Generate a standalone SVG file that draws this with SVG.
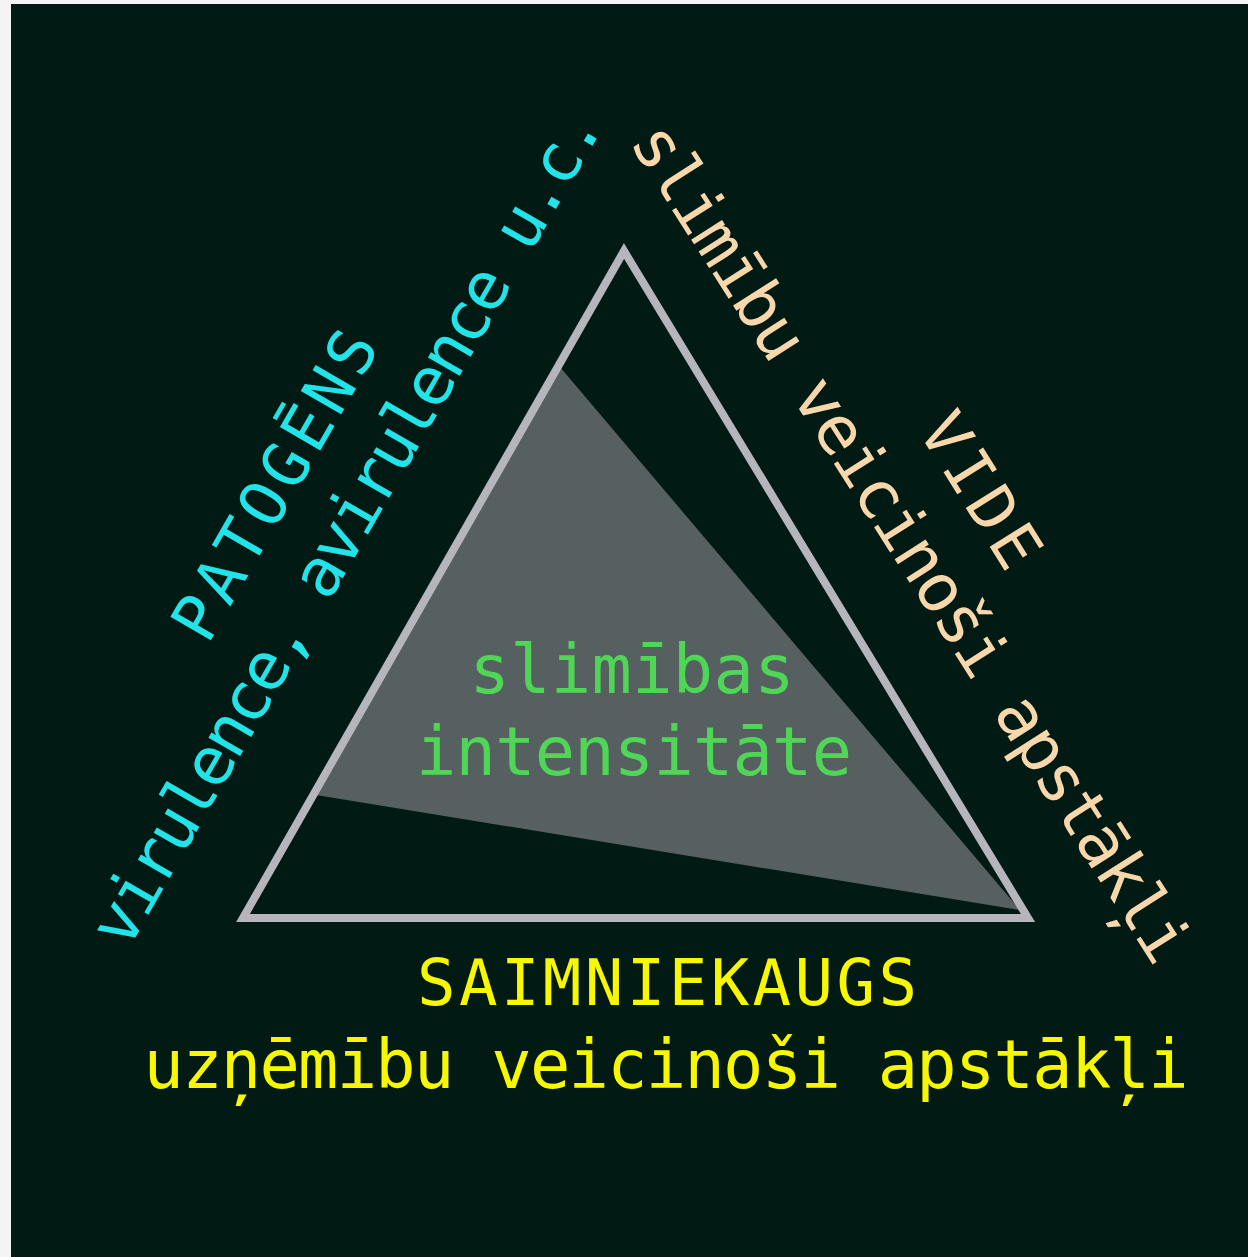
<svg xmlns="http://www.w3.org/2000/svg" width="1248" height="1257" viewBox="0 0 1248 1257">
  <style>
    .t { font-family: "DejaVu Sans Mono", "Liberation Mono", monospace; font-size: 64px; text-anchor: middle; }
    .lc { font-size: 67px; }
    .cyan { fill: #22e3e8; }
    .peach { fill: #f8d7aa; }
    .yellow { fill: #f7f700; }
    .green { fill: #4fd656; }
  </style>
  <rect x="0" y="0" width="1248" height="1257" fill="#f4f4f4"/>
  <rect x="11" y="4" width="1237" height="1253" fill="#021a14"/>

  <g id="intensity-area">
    <polygon points="560,367 316,795 1020,910" fill="#566060"/>
  </g>
  <g id="triangle">
    <polygon points="624,251 243,918 1028,918" fill="none" stroke="#b7b5bc" stroke-width="8" stroke-linejoin="miter" stroke-miterlimit="10"/>
  </g>

  <g id="center-label">
    <text class="t lc green" x="632" y="693" textLength="325" lengthAdjust="spacing">slimības</text>
    <text class="t lc green" x="634" y="775" textLength="436" lengthAdjust="spacing">intensitāte</text>
  </g>

  <g id="pathogen">
    <text class="t cyan" transform="translate(294,496) rotate(-60)" x="0" y="0" textLength="345" lengthAdjust="spacing">PATOGĒNS</text>
    <text class="t lc cyan" transform="translate(366,538) rotate(-60)" x="0" y="0" textLength="955" lengthAdjust="spacing">virulence, avirulence u.c.</text>
  </g>

  <g id="environment">
    <text class="t peach" transform="translate(962,502) rotate(58)" x="0" y="0" textLength="170" lengthAdjust="spacing">VIDE</text>
    <text class="t lc peach" transform="translate(892,555) rotate(57.5)" x="0" y="0" textLength="980" lengthAdjust="spacing">slimību veicinoši apstākļi</text>
  </g>

  <g id="host">
    <text class="t yellow" x="667" y="1005" textLength="500" lengthAdjust="spacing">SAIMNIEKAUGS</text>
    <text class="t lc yellow" x="666" y="1088" textLength="1045" lengthAdjust="spacing">uzņēmību veicinoši apstākļi</text>
  </g>

  <g id="connectors"></g>
</svg>
